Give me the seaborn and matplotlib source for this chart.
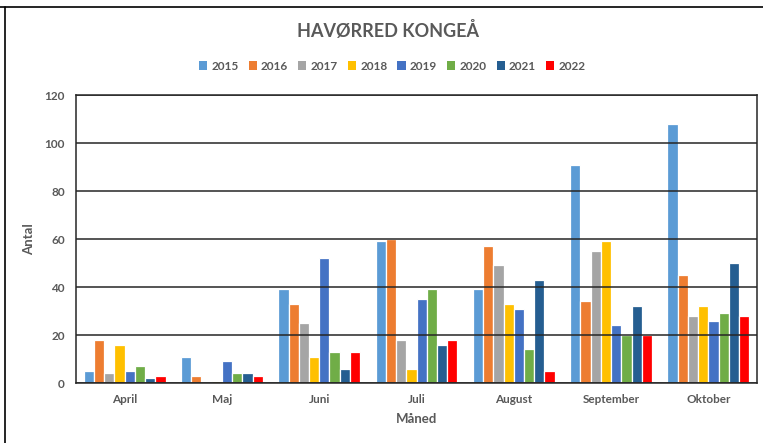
import matplotlib
matplotlib.use("Agg")
import matplotlib.pyplot as plt
import seaborn as sns
import pandas as pd
from matplotlib.lines import Line2D
from matplotlib.patches import Patch

months = ["April", "Maj", "Juni", "Juli", "August", "September", "Oktober"]
years = ["2015", "2016", "2017", "2018", "2019", "2020", "2021", "2022"]
v2015 = [5, 11, 39, 59, 39, 91, 108]
v2016 = [18, 3, 33, 60, 57, 34, 45]
v2017 = [4, 0, 25, 18, 49, 55, 28]
v2018 = [16, 1, 11, 6, 33, 59, 32]
v2019 = [5, 9, 52, 35, 31, 24, 26]
v2020 = [7, 4, 13, 39, 14, 20, 29]
v2021 = [2, 4, 6, 16, 43, 32, 50]
v2022 = [3, 3, 13, 18, 5, 20, 28]
colors = ["#5B9BD5", "#ED7D31", "#A5A5A5", "#FFC000", "#4472C4", "#70AD47", "#255E91", "#FF0000"]

series = [v2015, v2016, v2017, v2018, v2019, v2020, v2021, v2022]
rows = []
for y, vals in zip(years, series):
    for m, v in zip(months, vals):
        rows.append({"Måned": m, "Antal": v, "År": y})
df = pd.DataFrame(rows)

sns.set_theme(style="white")
plt.rcParams["font.family"] = ["Lato", "DejaVu Sans"]

fig = plt.figure(figsize=(7.63, 4.43), dpi=100)
ax = fig.add_axes([76/763, 1-383/443, (757-76)/763, (383-95)/443])

sns.barplot(data=df, x="Måned", y="Antal", hue="År", hue_order=years, order=months,
            palette=colors, width=0.84, edgecolor="white", linewidth=0.9,
            ax=ax, legend=False, errorbar=None, saturation=1)

ax.set_ylim(0, 120)
ax.set_xlim(-0.5, 6.5)
ax.set_yticks(range(0, 121, 20))
ax.grid(axis="y", color="#262626", linewidth=1.1)
ax.set_axisbelow(False)
for s in ax.spines.values():
    s.set_visible(True)
    s.set_color("#262626")
    s.set_linewidth(1.1)
ax.tick_params(axis="both", colors="#595959", labelsize=8.5, length=0, pad=8)
for lbl in ax.get_xticklabels() + ax.get_yticklabels():
    lbl.set_fontweight("bold")
    lbl.set_color("#595959")
ax.set_xlabel("Måned", fontsize=9.5, fontweight="bold", color="#595959", labelpad=6)
ax.set_ylabel("Antal", fontsize=9.5, fontweight="bold", color="#595959", labelpad=7)

fig.text(0.508, 0.932, "HAVØRRED KONGEÅ", ha="center", va="center",
         fontsize=13, fontweight="bold", color="#595959")

handles = [Patch(facecolor=c, edgecolor="none") for c in colors]
fig.legend(handles, years, loc="center", bbox_to_anchor=(0.514, 0.851), ncol=8,
           frameon=False, handlelength=0.7, handleheight=0.7,
           handletextpad=0.35, columnspacing=0.85,
           prop={"weight": "bold", "size": 8.5})
for t in fig.legends[0].get_texts():
    t.set_color("#595959")

fig.add_artist(Line2D([0, 1], [1-7/443, 1-7/443], transform=fig.transFigure, color="black", linewidth=1.2))
fig.add_artist(Line2D([5/763, 5/763], [0, 1-7/443], transform=fig.transFigure, color="black", linewidth=1.2))

fig.savefig("out.png", dpi=100)
